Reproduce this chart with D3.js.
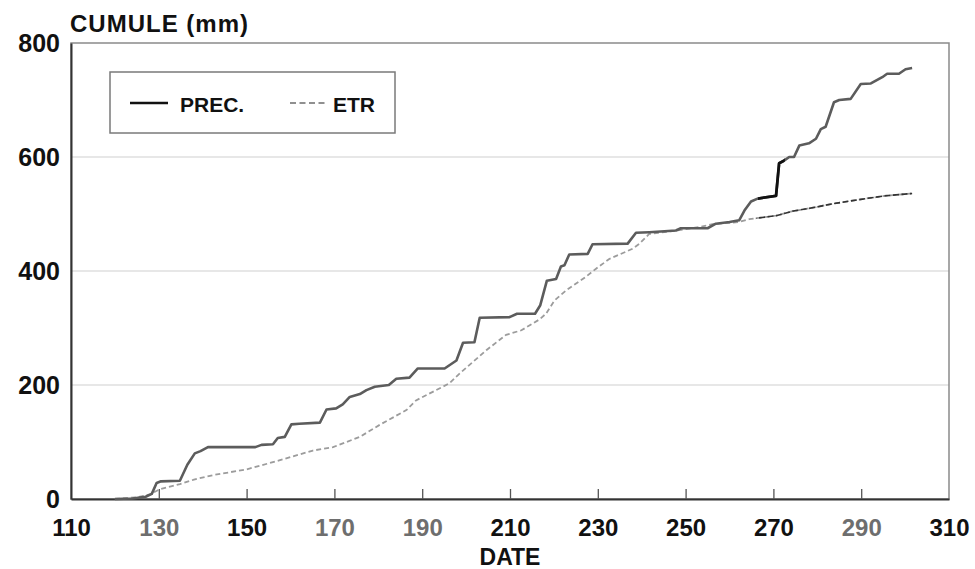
<!DOCTYPE html>
<html>
<head>
<meta charset="utf-8">
<script src="https://cdn.jsdelivr.net/npm/d3@7"></script>
<style>
  html, body { margin: 0; padding: 0; background: #fff; }
  svg { display: block; font-family: "Liberation Sans", Arial, sans-serif; }
</style>
</head>
<body>
<svg id="chart" width="975" height="569"></svg>
<script>
// ---- data (day of year, cumulative mm) ----
const precDays = [120,124,127,128.4,129.5,130.5,134.8,136.5,138.2,139.5,141.2,152,153.4,156,157.1,158.7,160.2,162,166.7,168.2,170.4,171.9,173.5,175.8,177.3,179.2,182.4,184.1,187.1,189,195.1,197.8,199.3,201.9,203.1,209.9,211.6,215.7,216.9,218.4,220.5,221.6,222.4,223.5,227.7,228.8,236.8,238.7,241.7,247.8,248.9,255,256.9,260,262.2,263.4,264.9,266.4,270.6,271.3,272.5,273.6,274.7,275.9,278.1,279.7,280.8,281.9,283.8,285,287.6,289.9,292.2,294.8,295.9,298.6,300.1,301.6];
const precValues = [0,1,4,9,28,31,32,60,80,84,91,91,95,96,107,109,131,132,134,157,159,166,179,184,191,197,200,211,213,229,229,243,274,275,318,319,325,325,340,383,386,408,410,429,430,447,448,467,468,471,475,475,483,486,489,506,522,527,532,589,594,600,600,620,624,632,649,653,696,700,702,728,729,740,746,746,754,756];

const etrDays = [120,125,128,130.2,134.8,138,142.4,150,157.6,165.1,169.7,175.8,180.3,186.4,188.6,192.4,196.2,198.5,201.5,204.6,209.1,212.6,216.7,218.2,220.1,222.8,227.3,229.6,232.6,237.9,239.5,241.7,247,253.1,256.1,262.2,264.5,270.6,274.4,279.7,283.5,291,295.6,301.6];
const etrValues = [0,3,8,17,26,34,42,52,68,85,91,109,130,156,173,188,203,220,240,261,288,296,315,325,348,366,390,404,421,439,448,465,470,477,482,486,491,497,505,512,518,527,532,536];

const xTicks = [110,130,150,170,190,210,230,250,270,290,310];
const yTicks = [0,200,400,600,800];
const grayLabels = [130,170,190,290];
const seriesNames = ["PREC.", "ETR"];
const yTitle = "CUMULE (mm)";
const xTitle = "DATE";

// ---- chart ----
const svg = d3.select("#chart");
const pLeft = 71, pRight = 949, pTop = 43, pBottom = 499;

const x = d3.scaleLinear().domain([110, 310]).range([pLeft, pRight]);
const y = d3.scaleLinear().domain([0, 800]).range([pBottom, pTop]);

const prec = precDays.map((d, i) => [d, precValues[i]]);
const etr = etrDays.map((d, i) => [d, etrValues[i]]);

// gridlines
svg.append("g")
  .selectAll("line")
  .data(yTicks.filter(v => v > 0 && v < 800))
  .join("line")
  .attr("x1", pLeft).attr("x2", pRight)
  .attr("y1", d => y(d)).attr("y2", d => y(d))
  .attr("stroke", "#cfcfcf").attr("stroke-width", 1.2);

// frame
svg.append("rect")
  .attr("x", pLeft).attr("y", pTop)
  .attr("width", pRight - pLeft).attr("height", pBottom - pTop)
  .attr("fill", "none").attr("stroke", "#8a8a8a").attr("stroke-width", 1.5);

// x axis
const xAxis = d3.axisBottom(x)
  .tickValues(xTicks)
  .tickFormat(d3.format("d"))
  .tickSizeInner(-10).tickSizeOuter(0)
  .tickPadding(20);
const gx = svg.append("g").attr("transform", `translate(0,${pBottom})`).call(xAxis);
gx.select(".domain").attr("stroke", "#333").attr("stroke-width", 2);
gx.selectAll(".tick line")
  .attr("stroke", "#555").attr("stroke-width", 1.3)
  .attr("opacity", d => (d === 110 || d === 310) ? 0 : 1);
gx.selectAll(".tick text")
  .attr("font-size", 24).attr("font-weight", "bold")
  .attr("font-family", "'Liberation Sans', Arial, sans-serif")
  .attr("fill", d => grayLabels.includes(d) ? "#6e6e6e" : "#111");

// y axis
const yAxis = d3.axisLeft(y)
  .tickValues(yTicks)
  .tickFormat(d3.format("d"))
  .tickSize(0)
  .tickPadding(11);
const gy = svg.append("g").attr("transform", `translate(${pLeft},0)`).call(yAxis);
gy.select(".domain").attr("stroke", "#333").attr("stroke-width", 2);
gy.selectAll(".tick text")
  .attr("font-size", 25).attr("font-weight", "bold")
  .attr("font-family", "'Liberation Sans', Arial, sans-serif")
  .attr("fill", "#111");

// titles
svg.append("text")
  .attr("x", 70).attr("y", 32)
  .attr("font-size", 24).attr("font-weight", "bold")
  .attr("letter-spacing", 1)
  .attr("fill", "#111")
  .text(yTitle);

svg.append("text")
  .attr("x", x(210)).attr("y", 565)
  .attr("text-anchor", "middle")
  .attr("font-size", 23).attr("font-weight", "bold")
  .attr("fill", "#111")
  .text(xTitle);

// clip paths for darker scan segments
const defs = svg.append("defs");
defs.append("clipPath").attr("id", "clipPrecDark")
  .append("rect").attr("x", x(266.5)).attr("y", pTop).attr("width", x(272.6) - x(266.5)).attr("height", pBottom - pTop);
defs.append("clipPath").attr("id", "clipEtrDark")
  .append("rect").attr("x", x(266)).attr("y", pTop).attr("width", x(303) - x(266)).attr("height", pBottom - pTop);

const line = d3.line().x(d => x(d[0])).y(d => y(d[1]));

// ETR
svg.append("path")
  .datum(etr)
  .attr("d", line)
  .attr("fill", "none").attr("stroke", "#9c9c9c")
  .attr("stroke-width", 1.8).attr("stroke-dasharray", "5,3");
svg.append("path")
  .datum(etr)
  .attr("d", line)
  .attr("clip-path", "url(#clipEtrDark)")
  .attr("fill", "none").attr("stroke", "#333")
  .attr("stroke-width", 1.6).attr("stroke-dasharray", "6,2.5");

// PREC
svg.append("path")
  .datum(prec)
  .attr("d", line)
  .attr("fill", "none").attr("stroke", "#5c5c5c")
  .attr("stroke-width", 2.6).attr("stroke-linejoin", "round");
svg.append("path")
  .datum(prec)
  .attr("d", line)
  .attr("clip-path", "url(#clipPrecDark)")
  .attr("fill", "none").attr("stroke", "#111")
  .attr("stroke-width", 2.8).attr("stroke-linejoin", "round");

// legend
const lg = svg.append("g");
lg.append("rect")
  .attr("x", 110).attr("y", 72).attr("width", 285).attr("height", 61)
  .attr("fill", "#fff").attr("stroke", "#7a7a7a").attr("stroke-width", 1.5);
lg.append("line")
  .attr("x1", 130).attr("x2", 168).attr("y1", 103).attr("y2", 103)
  .attr("stroke", "#111").attr("stroke-width", 2.4);
lg.append("text")
  .attr("x", 180).attr("y", 111.5)
  .attr("font-size", 21).attr("font-weight", "bold").attr("fill", "#111")
  .text(seriesNames[0]);
lg.append("line")
  .attr("x1", 290).attr("x2", 326).attr("y1", 103).attr("y2", 103)
  .attr("stroke", "#222").attr("stroke-width", 1.2).attr("stroke-dasharray", "6,3.5");
lg.append("text")
  .attr("x", 333).attr("y", 111.5)
  .attr("font-size", 21).attr("font-weight", "bold").attr("fill", "#111")
  .text(seriesNames[1]);
</script>
</body>
</html>
